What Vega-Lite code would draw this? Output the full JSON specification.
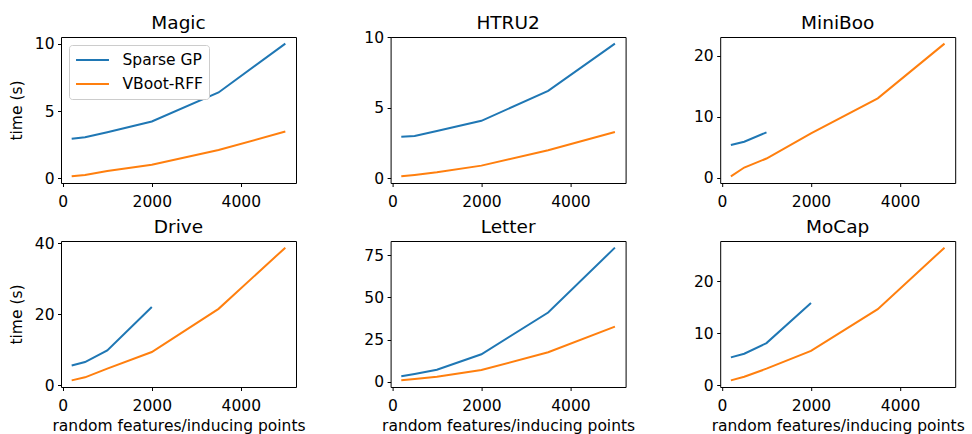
{
  "$schema": "https://vega.github.io/schema/vega-lite/v6.json",
  "background": "white",
  "padding": {"left": 8, "top": 13, "right": 5, "bottom": 0},
  "bounds": "flush",
  "columns": 3,
  "spacing": {"row": 58, "column": 94.6},
  "resolve": {"scale": {"x": "independent", "y": "independent", "color": "independent"}, "legend": {"color": "independent"}},
  "datasets": {
    "runs": [
      {"d": "Magic", "method": "Sparse GP", "m": 200, "t": 2.94},
      {"d": "Magic", "method": "Sparse GP", "m": 500, "t": 3.06},
      {"d": "Magic", "method": "Sparse GP", "m": 1000, "t": 3.43},
      {"d": "Magic", "method": "Sparse GP", "m": 2000, "t": 4.23},
      {"d": "Magic", "method": "Sparse GP", "m": 3500, "t": 6.39},
      {"d": "Magic", "method": "Sparse GP", "m": 5000, "t": 10.02},
      {"d": "Magic", "method": "VBoot-RFF", "m": 200, "t": 0.15},
      {"d": "Magic", "method": "VBoot-RFF", "m": 500, "t": 0.25},
      {"d": "Magic", "method": "VBoot-RFF", "m": 1000, "t": 0.55},
      {"d": "Magic", "method": "VBoot-RFF", "m": 2000, "t": 1.02},
      {"d": "Magic", "method": "VBoot-RFF", "m": 3500, "t": 2.11},
      {"d": "Magic", "method": "VBoot-RFF", "m": 5000, "t": 3.48},
      {"d": "HTRU2", "method": "Sparse GP", "m": 200, "t": 2.94},
      {"d": "HTRU2", "method": "Sparse GP", "m": 500, "t": 3.0},
      {"d": "HTRU2", "method": "Sparse GP", "m": 1000, "t": 3.36},
      {"d": "HTRU2", "method": "Sparse GP", "m": 2000, "t": 4.08},
      {"d": "HTRU2", "method": "Sparse GP", "m": 3500, "t": 6.2},
      {"d": "HTRU2", "method": "Sparse GP", "m": 5000, "t": 9.55},
      {"d": "HTRU2", "method": "VBoot-RFF", "m": 200, "t": 0.14},
      {"d": "HTRU2", "method": "VBoot-RFF", "m": 500, "t": 0.24},
      {"d": "HTRU2", "method": "VBoot-RFF", "m": 1000, "t": 0.43},
      {"d": "HTRU2", "method": "VBoot-RFF", "m": 2000, "t": 0.9},
      {"d": "HTRU2", "method": "VBoot-RFF", "m": 3500, "t": 1.99},
      {"d": "HTRU2", "method": "VBoot-RFF", "m": 5000, "t": 3.29},
      {"d": "MiniBoo", "method": "Sparse GP", "m": 200, "t": 5.34},
      {"d": "MiniBoo", "method": "Sparse GP", "m": 500, "t": 5.88},
      {"d": "MiniBoo", "method": "Sparse GP", "m": 1000, "t": 7.42},
      {"d": "MiniBoo", "method": "VBoot-RFF", "m": 200, "t": 0.2},
      {"d": "MiniBoo", "method": "VBoot-RFF", "m": 500, "t": 1.65},
      {"d": "MiniBoo", "method": "VBoot-RFF", "m": 1000, "t": 3.13},
      {"d": "MiniBoo", "method": "VBoot-RFF", "m": 2000, "t": 7.25},
      {"d": "MiniBoo", "method": "VBoot-RFF", "m": 3500, "t": 13.0},
      {"d": "MiniBoo", "method": "VBoot-RFF", "m": 5000, "t": 21.97},
      {"d": "Drive", "method": "Sparse GP", "m": 200, "t": 5.6},
      {"d": "Drive", "method": "Sparse GP", "m": 500, "t": 6.55},
      {"d": "Drive", "method": "Sparse GP", "m": 1000, "t": 9.83},
      {"d": "Drive", "method": "Sparse GP", "m": 2000, "t": 22.0},
      {"d": "Drive", "method": "VBoot-RFF", "m": 200, "t": 1.4},
      {"d": "Drive", "method": "VBoot-RFF", "m": 500, "t": 2.25},
      {"d": "Drive", "method": "VBoot-RFF", "m": 1000, "t": 4.7},
      {"d": "Drive", "method": "VBoot-RFF", "m": 2000, "t": 9.36},
      {"d": "Drive", "method": "VBoot-RFF", "m": 3500, "t": 21.5},
      {"d": "Drive", "method": "VBoot-RFF", "m": 5000, "t": 38.7},
      {"d": "Letter", "method": "Sparse GP", "m": 200, "t": 3.2},
      {"d": "Letter", "method": "Sparse GP", "m": 500, "t": 4.6},
      {"d": "Letter", "method": "Sparse GP", "m": 1000, "t": 7.1},
      {"d": "Letter", "method": "Sparse GP", "m": 2000, "t": 16.3},
      {"d": "Letter", "method": "Sparse GP", "m": 3500, "t": 41.1},
      {"d": "Letter", "method": "Sparse GP", "m": 5000, "t": 79.6},
      {"d": "Letter", "method": "VBoot-RFF", "m": 200, "t": 0.8},
      {"d": "Letter", "method": "VBoot-RFF", "m": 500, "t": 1.6},
      {"d": "Letter", "method": "VBoot-RFF", "m": 1000, "t": 3.0},
      {"d": "Letter", "method": "VBoot-RFF", "m": 2000, "t": 6.9},
      {"d": "Letter", "method": "VBoot-RFF", "m": 3500, "t": 17.5},
      {"d": "Letter", "method": "VBoot-RFF", "m": 5000, "t": 32.7},
      {"d": "MoCap", "method": "Sparse GP", "m": 200, "t": 5.37},
      {"d": "MoCap", "method": "Sparse GP", "m": 500, "t": 6.07},
      {"d": "MoCap", "method": "Sparse GP", "m": 1000, "t": 8.1},
      {"d": "MoCap", "method": "Sparse GP", "m": 2000, "t": 15.8},
      {"d": "MoCap", "method": "VBoot-RFF", "m": 200, "t": 0.96},
      {"d": "MoCap", "method": "VBoot-RFF", "m": 500, "t": 1.66},
      {"d": "MoCap", "method": "VBoot-RFF", "m": 1000, "t": 3.2},
      {"d": "MoCap", "method": "VBoot-RFF", "m": 2000, "t": 6.6},
      {"d": "MoCap", "method": "VBoot-RFF", "m": 3500, "t": 14.6},
      {"d": "MoCap", "method": "VBoot-RFF", "m": 5000, "t": 26.4}
    ]
  },
  "concat": [
    {
      "title": {"text": "Magic", "offset": 4.65},
      "width": 235, "height": 146,
      "data": {"name": "runs"},
      "transform": [{"filter": "datum.d === 'Magic'"}],
      "mark": {"type": "line", "strokeWidth": 2},
      "encoding": {
        "x": {"field": "m", "type": "quantitative", "scale": {"padding": 10.68, "nice": false, "zero": false}, "axis": {"values": [0, 2000, 4000], "title": null}},
        "y": {"field": "t", "type": "quantitative", "scale": {"padding": 6.64, "nice": false, "zero": false}, "axis": {"values": [0, 5, 10], "title": "time (s)"}},
        "color": {"field": "method", "type": "nominal", "scale": {"domain": ["Sparse GP", "VBoot-RFF"], "range": ["#1f77b4", "#ff7f0e"]}, "legend": {"title": null}}
      }
    },
    {
      "title": {"text": "HTRU2", "offset": -2.45},
      "width": 235, "height": 146,
      "data": {"name": "runs"},
      "transform": [{"filter": "datum.d === 'HTRU2'"}],
      "mark": {"type": "line", "strokeWidth": 2},
      "encoding": {
        "x": {"field": "m", "type": "quantitative", "scale": {"padding": 10.68, "nice": false, "zero": false}, "axis": {"values": [0, 2000, 4000], "title": null}},
        "y": {"field": "t", "type": "quantitative", "scale": {"padding": 6.64, "nice": false, "zero": false}, "axis": {"values": [0, 5, 10], "title": null}},
        "color": {"field": "method", "type": "nominal", "scale": {"domain": ["Sparse GP", "VBoot-RFF"], "range": ["#1f77b4", "#ff7f0e"]}, "legend": null}
      }
    },
    {
      "title": {"text": "MiniBoo", "offset": 5},
      "width": 235, "height": 146,
      "data": {"name": "runs"},
      "transform": [{"filter": "datum.d === 'MiniBoo'"}],
      "mark": {"type": "line", "strokeWidth": 2},
      "encoding": {
        "x": {"field": "m", "type": "quantitative", "scale": {"padding": 10.68, "nice": false, "zero": false}, "axis": {"values": [0, 2000, 4000], "title": null}},
        "y": {"field": "t", "type": "quantitative", "scale": {"padding": 6.64, "nice": false, "zero": false}, "axis": {"values": [0, 10, 20], "title": null}},
        "color": {"field": "method", "type": "nominal", "scale": {"domain": ["Sparse GP", "VBoot-RFF"], "range": ["#1f77b4", "#ff7f0e"]}, "legend": null}
      }
    },
    {
      "title": {"text": "Drive", "offset": -0.75},
      "width": 235, "height": 146,
      "data": {"name": "runs"},
      "transform": [{"filter": "datum.d === 'Drive'"}],
      "mark": {"type": "line", "strokeWidth": 2},
      "encoding": {
        "x": {"field": "m", "type": "quantitative", "scale": {"padding": 10.68, "nice": false, "zero": false}, "axis": {"values": [0, 2000, 4000], "title": "random features/inducing points"}},
        "y": {"field": "t", "type": "quantitative", "scale": {"padding": 6.64, "nice": false, "zero": false}, "axis": {"values": [0, 20, 40], "title": "time (s)"}},
        "color": {"field": "method", "type": "nominal", "scale": {"domain": ["Sparse GP", "VBoot-RFF"], "range": ["#1f77b4", "#ff7f0e"]}, "legend": null}
      }
    },
    {
      "title": {"text": "Letter", "offset": 5},
      "width": 235, "height": 146,
      "data": {"name": "runs"},
      "transform": [{"filter": "datum.d === 'Letter'"}],
      "mark": {"type": "line", "strokeWidth": 2},
      "encoding": {
        "x": {"field": "m", "type": "quantitative", "scale": {"padding": 10.68, "nice": false, "zero": false}, "axis": {"values": [0, 2000, 4000], "title": "random features/inducing points"}},
        "y": {"field": "t", "type": "quantitative", "scale": {"padding": 6.64, "nice": false, "zero": false}, "axis": {"values": [0, 25, 50, 75], "title": null}},
        "color": {"field": "method", "type": "nominal", "scale": {"domain": ["Sparse GP", "VBoot-RFF"], "range": ["#1f77b4", "#ff7f0e"]}, "legend": null}
      }
    },
    {
      "title": {"text": "MoCap", "offset": 5},
      "width": 235, "height": 146,
      "data": {"name": "runs"},
      "transform": [{"filter": "datum.d === 'MoCap'"}],
      "mark": {"type": "line", "strokeWidth": 2},
      "encoding": {
        "x": {"field": "m", "type": "quantitative", "scale": {"padding": 10.68, "nice": false, "zero": false}, "axis": {"values": [0, 2000, 4000], "title": "random features/inducing points"}},
        "y": {"field": "t", "type": "quantitative", "scale": {"padding": 6.64, "nice": false, "zero": false}, "axis": {"values": [0, 10, 20], "title": null}},
        "color": {"field": "method", "type": "nominal", "scale": {"domain": ["Sparse GP", "VBoot-RFF"], "range": ["#1f77b4", "#ff7f0e"]}, "legend": null}
      }
    }
  ],
  "config": {
    "font": "DejaVu Sans",
    "view": {"stroke": "black", "strokeWidth": 1},
    "axis": {
      "domain": false, "grid": false,
      "tickColor": "black", "tickSize": 3.5, "tickWidth": 1,
      "labelFontSize": 15.5, "labelColor": "black",
      "titleFontSize": 15.5, "titleFontWeight": "normal", "titleColor": "black"
    },
    "axisX": {"labelPadding": 8, "titlePadding": 4.5, "format": "d"},
    "axisY": {"labelPadding": 3.5, "titlePadding": 10},
    "title": {"fontSize": 18.5, "fontWeight": "normal", "color": "black", "offset": 5, "anchor": "middle", "frame": "group"},
    "legend": {
      "orient": "top-left", "offset": 8, "padding": 6,
      "strokeColor": "#cccccc", "fillColor": "white", "cornerRadius": 3,
      "labelFontSize": 15.5, "labelColor": "black",
      "symbolType": "M-2.06,0H2.06", "symbolSize": 256, "symbolStrokeWidth": 2, "symbolOffset": 8.5,
      "rowPadding": 6, "labelOffset": 21
    }
  }
}
